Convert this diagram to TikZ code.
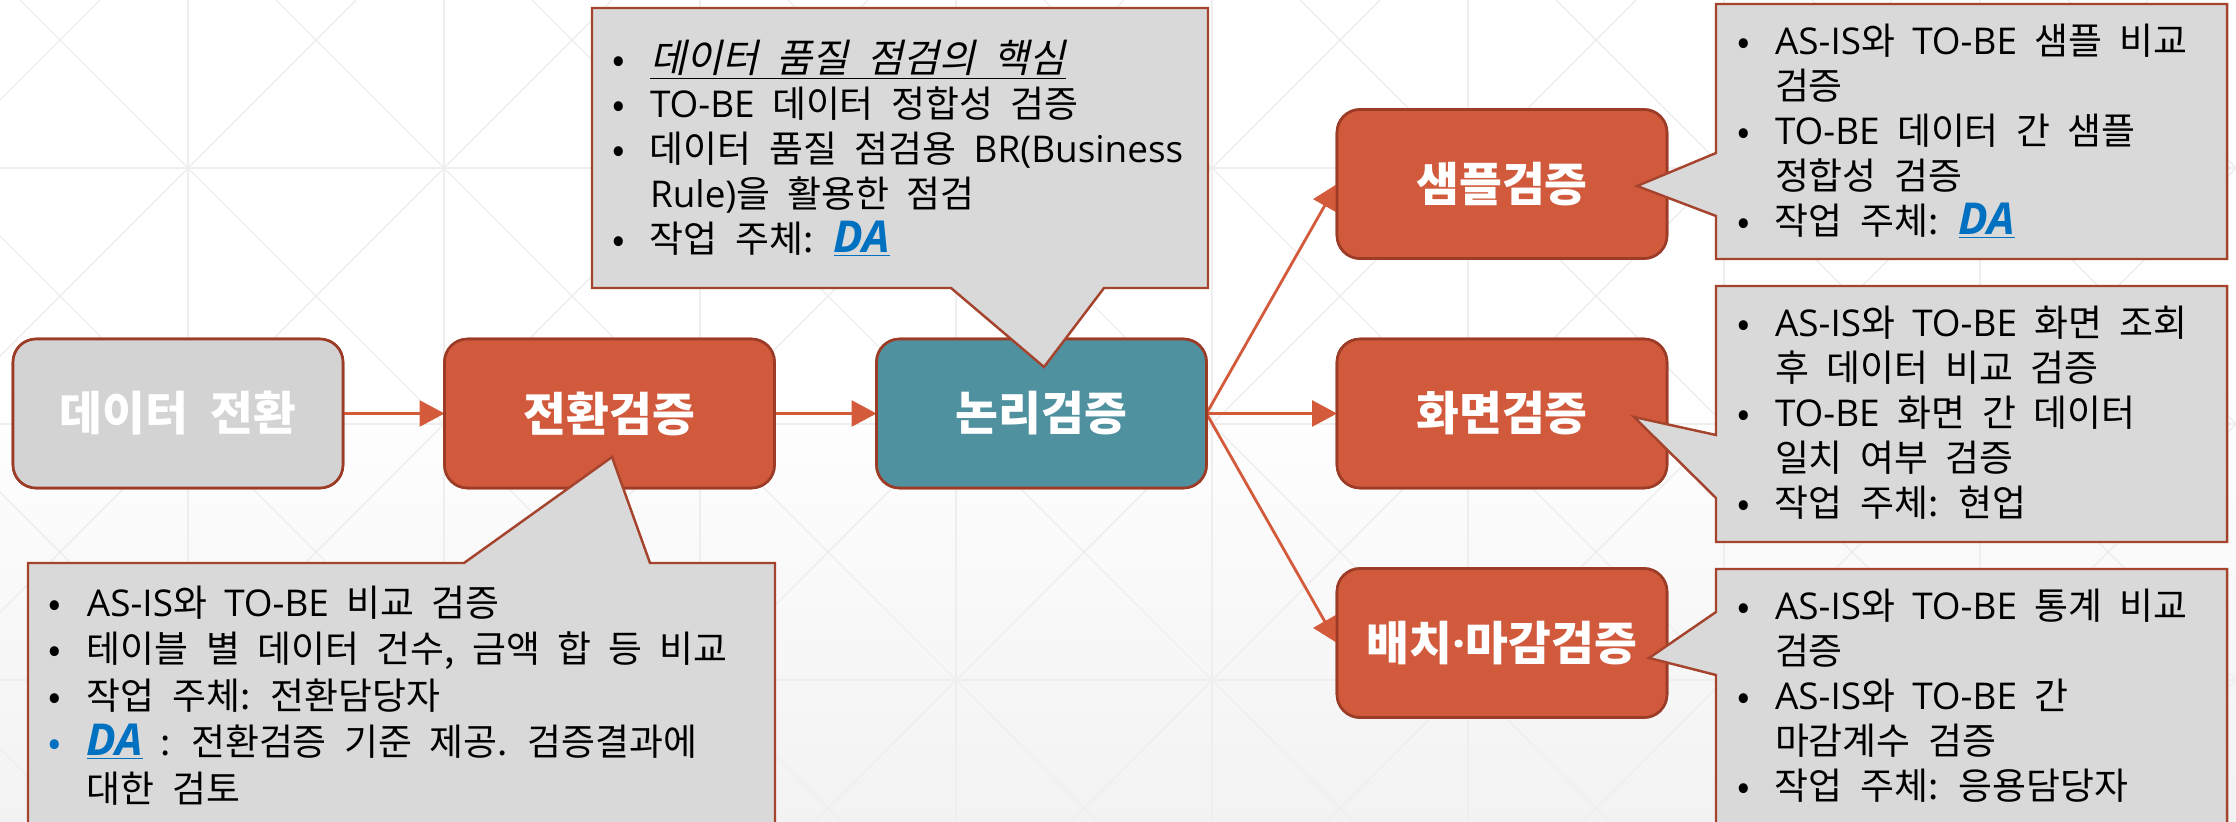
\documentclass[tikz,border=0pt]{standalone}
\usepackage{fontspec}
\setmainfont{Noto Sans CJK KR}[WordSpace=2.1]
\newfontfamily\krit{Noto Sans CJK KR}[FakeSlant=0.22,WordSpace=2.1]
\newfontfamily\dafont{Open Sans}
\newfontfamily\latf{Open Sans}
\newcommand\lat[1]{{\latf #1}}
\usetikzlibrary{arrows.meta}
\newlength\pxl \setlength\pxl{0.5691pt}
\definecolor{orangef}{HTML}{D15A3D}
\definecolor{boxline}{HTML}{9C3B26}
\definecolor{tealf}{HTML}{5091A0}
\definecolor{grayf}{HTML}{D3D3D3}
\definecolor{callf}{HTML}{D9D9D9}
\definecolor{callline}{HTML}{A5432D}
\definecolor{arrowc}{HTML}{D45A3C}
\definecolor{dablue}{HTML}{0070C0}
\definecolor{gridc}{HTML}{EEEEEE}
\newcommand\bul{\makebox[42\pxl][l]{\hspace*{4\pxl}•}}
\newcommand\bbul{\makebox[42\pxl][l]{\hspace*{4\pxl}\color{dablue}•}}
\newcommand\ind{\hspace*{42\pxl}}
\newcommand\dalabel{{\dafont\bfseries\itshape\fontsize{25}{25}\selectfont\color{dablue}\underline{DA}}}
\begin{document}
\begin{tikzpicture}[x=0.02cm,y=-0.02cm,
  box/.style={rounded corners=0.46cm, draw=boxline, line width=1.5pt, minimum width=6.6cm, minimum height=2.98cm, inner sep=0pt, outer sep=0pt, font=\bfseries\fontsize{26.5}{28}\selectfont, text=white},
  obox/.style={box, fill=orangef},
  tbox/.style={box, fill=tealf},
  gbox/.style={box, fill=grayf},
  arr/.style={draw=arrowc, line width=1.6pt, -{Triangle[length=0.5cm,width=0.52cm]}},
  callout/.style={fill=callf, draw=callline, line width=1.4pt, line join=miter},
  ctext/.style={anchor=north west, inner sep=0pt, outer sep=0pt, align=left, font=\fontsize{21}{25.6}\selectfont},
  gridline/.style={draw=gridc, line width=0.8pt}
]
\useasboundingbox (0,0) rectangle (2236,822);
% background
\fill[white] (0,0) rectangle (2236,822);
\shade[top color=white, bottom color=black!5] (0,380) rectangle (2236,822);
\begin{scope}
\clip (0,0) rectangle (2236,822);
\foreach \k in {0,...,7} \draw[gridline] ({188+256*\k},0) -- ({188+256*\k},822);
\foreach \yy in {168,424,680} \draw[gridline] (0,\yy) -- (2236,\yy);
\foreach \k in {-4,...,9} \draw[gridline] ({20+256*\k},0) -- ({20+256*\k+822},822);
\foreach \k in {0,...,11} \draw[gridline] ({100+256*\k},0) -- ({100+256*\k-822},822);
\end{scope}
% boxes
\node[gbox] (dt) at (178,413.5) {데이터 전환};
\node[obox] (jh) at (609.5,413.5) {전환검증};
\node[tbox] (nl) at (1041.5,413.5) {논리검증};
\node[obox] (sp) at (1502,184) {샘플검증};
\node[obox] (hm) at (1502,413.5) {화면검증};
\node[obox] (bc) at (1502,643) {배치{\latf\bfseries ·}마감검증};
% arrows
\draw[arr] (dt.east) -- (jh.west);
\draw[arr] (jh.east) -- (nl.west);
\draw[arr] (nl.east) -- (sp.west);
\draw[arr] (nl.east) -- (hm.west);
\draw[arr] (nl.east) -- (bc.west);
% redraw boxes on top of arrow tips
\node[gbox] at (dt) {데이터 전환};
\node[obox] at (jh) {전환검증};
\node[tbox] at (nl) {논리검증};
\node[obox] at (sp) {샘플검증};
\node[obox] at (hm) {화면검증};
\node[obox] at (bc) {배치{\latf\bfseries ·}마감검증};
% callouts
\draw[callout] (592,8) -- (1208,8) -- (1208,288) -- (1104,288) -- (1044,367) -- (951,288) -- (592,288) -- cycle;
\draw[callout] (28,563) -- (464,563) -- (612,457) -- (650,563) -- (775,563) -- (775,835) -- (28,835) -- cycle;
\draw[callout] (1716,4) -- (2227,4) -- (2227,259) -- (1716,259) -- (1716,216) -- (1637,186) -- (1716,153) -- cycle;
\draw[callout] (1716,286) -- (2227,286) -- (2227,542) -- (1716,542) -- (1716,498) -- (1634,417) -- (1716,435) -- cycle;
\draw[callout] (1716,569) -- (2227,569) -- (2227,835) -- (1716,835) -- (1716,675) -- (1649,658) -- (1716,612) -- cycle;
% callout texts
\node[ctext] (lq) at (608,40.5) {\strut\bul{\krit\fontsize{22.3}{25.6}\selectfont\underline{데이터 품질 점검의 핵심}}\\
\bul \lat{TO-BE} 데이터 정합성 검증\\
\bul 데이터 품질 점검용 \lat{BR(Business}\\
\ind \lat{Rule)}을 활용한 점검\\
\bul 작업 주체: \dalabel};
\node[ctext, font=\fontsize{21}{26.5}\selectfont] (jq) at (45,583.5) {\strut\bul \lat{AS-IS}와 \lat{TO-BE} 비교 검증\\
\bul 테이블 별 데이터 건수, 금액 합 등 비교\\
\bul 작업 주체: 전환담당자\\
\bbul\dalabel\ : 전환검증 기준 제공. 검증결과에\\
\ind 대한 검토};
\node[ctext] (sq) at (1733,23.5) {\strut\bul \lat{AS-IS}와 \lat{TO-BE} 샘플 비교\\
\ind 검증\\
\bul \lat{TO-BE} 데이터 간 샘플\\
\ind 정합성 검증\\
\bul 작업 주체: \dalabel};
\node[ctext] (hq) at (1733,305.5) {\strut\bul \lat{AS-IS}와 \lat{TO-BE} 화면 조회\\
\ind 후 데이터 비교 검증\\
\bul \lat{TO-BE} 화면 간 데이터\\
\ind 일치 여부 검증\\
\bul 작업 주체: 현업};
\node[ctext] (bq) at (1733,588.5) {\strut\bul \lat{AS-IS}와 \lat{TO-BE} 통계 비교\\
\ind 검증\\
\bul \lat{AS-IS}와 \lat{TO-BE} 간\\
\ind 마감계수 검증\\
\bul 작업 주체: 응용담당자};
\end{tikzpicture}
\end{document}
